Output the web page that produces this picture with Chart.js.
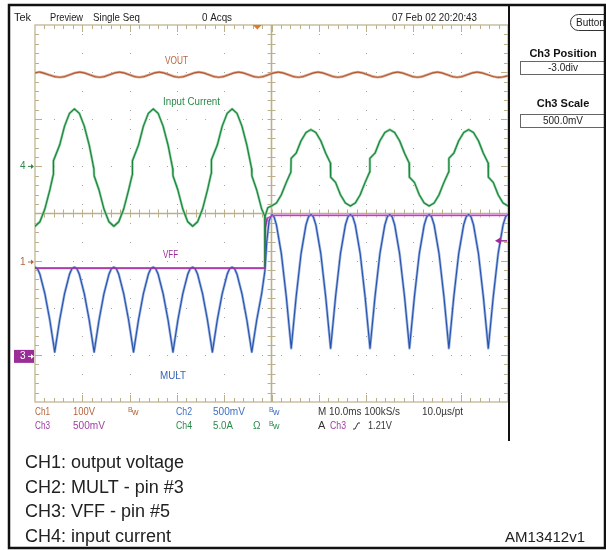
<!DOCTYPE html>
<html>
<head>
<meta charset="utf-8">
<title>AM13412v1</title>
<script src="https://cdn.jsdelivr.net/npm/chart.js@4.4.1/dist/chart.umd.min.js"></script>
<style>
    html, body { margin: 0; padding: 0; background: #fff; }
    #wrap { position: relative; width: 606px; height: 550px; }
</style>
</head>
<body>
<div id="wrap"><canvas id="scope"></canvas></div>
<script>
// x = time in ms (10 ms/div, 0 = left edge of screen), y = screen divisions (0 = centre line)

// CH1 output voltage ripple (peaks / troughs)
var voutTrace = [
    [0, 2.98], [1.05, 3.0], [5.25, 2.89], [9.45, 3.0], [13.65, 2.89], [17.85, 3.0], [22.05, 2.89],
    [26.25, 3.0], [30.45, 2.89], [34.65, 3.0], [38.85, 2.89], [43.05, 3.0], [47.25, 2.89],
    [51.45, 3.0], [55.65, 2.89], [59.85, 3.0], [64.05, 2.89], [68.25, 3.0], [72.45, 2.89],
    [76.65, 3.0], [80.85, 2.89], [85.05, 3.0], [89.25, 2.89], [93.45, 3.0], [97.65, 2.89], [100, 2.92]
];

// CH4 input current
var iinTrace = [
    [0, -0.27], [1.04, -0.175], [2.08, 0.095], [3.13, 0.498], [3.85, 0.82], [3.9, 1.12], [5.21, 1.452],
    [6.25, 1.855], [7.29, 2.125], [8.33, 2.22], [9.38, 2.125], [10.42, 1.855], [11.46, 1.452],
    [12.45, 0.95], [12.5, 0.80], [13.54, 0.498], [14.58, 0.095], [15.63, -0.175], [16.67, -0.27],
    [17.71, -0.175], [18.75, 0.095], [19.79, 0.498], [20.55, 0.82], [20.6, 1.12], [21.88, 1.452],
    [22.92, 1.855], [23.96, 2.125], [25, 2.22], [26.04, 2.125], [27.08, 1.855], [28.13, 1.452],
    [29.12, 0.95], [29.17, 0.80], [30.21, 0.498], [31.25, 0.095], [32.29, -0.175], [33.33, -0.27],
    [34.38, -0.175], [35.42, 0.095], [36.46, 0.498], [37.25, 0.85], [37.3, 1.14], [38.54, 1.452],
    [39.58, 1.855], [40.63, 2.125], [41.67, 2.22], [42.71, 2.125], [43.75, 1.855], [44.79, 1.452],
    [45.8, 0.95], [45.85, 0.80], [46.88, 0.498], [47.92, 0.095],
    [48.55, -0.05], [48.6, -1.12], [48.68, -0.05], [49.2, 0.12],
    [50, 0.16], [51.04, 0.222], [52.08, 0.397], [53.13, 0.66], [54.1, 0.88], [54.15, 1.17],
    [55.21, 1.28], [56.25, 1.543], [57.29, 1.718], [58.33, 1.78], [59.38, 1.718], [60.42, 1.543],
    [61.46, 1.28], [62.45, 1.07], [62.5, 0.77], [63.54, 0.66], [64.58, 0.397], [65.63, 0.222],
    [66.67, 0.16], [67.71, 0.222], [68.75, 0.397], [69.79, 0.66], [70.75, 0.88], [70.8, 1.17],
    [71.88, 1.28], [72.92, 1.543], [73.96, 1.718], [75, 1.78], [76.04, 1.718], [77.08, 1.543],
    [78.13, 1.28], [79.1, 1.07], [79.15, 0.77], [80.21, 0.66], [81.25, 0.397], [82.29, 0.222],
    [83.33, 0.16], [84.38, 0.222], [85.42, 0.397], [86.46, 0.66], [87.45, 0.88], [87.5, 1.17],
    [88.54, 1.28], [89.58, 1.543], [90.63, 1.718], [91.67, 1.78], [92.71, 1.718], [93.75, 1.543],
    [94.79, 1.28], [95.8, 1.07], [95.85, 0.77], [96.88, 0.66], [97.92, 0.397], [98.96, 0.222], [100, 0.16]
];

// CH3 VFF (pin 5)
var vffTrace = [
    [0, -1.16], [48.6, -1.16], [48.7, -0.3], [49.1, -0.1], [50.3, -0.04], [100, -0.04]
];

// CH2 MULT (pin 3)
var multTrace = [
    [0, -1.14], [0.52, -1.17], [1.04, -1.29], [2.08, -1.70], [3.13, -2.26], [4.17, -2.94], [5.21, -2.26], [6.25, -1.70], [7.29, -1.29], [7.81, -1.17],
    [8.33, -1.14], [8.85, -1.17], [9.38, -1.29], [10.42, -1.70], [11.46, -2.26], [12.5, -2.94], [13.54, -2.26], [14.58, -1.70], [15.63, -1.29], [16.15, -1.17],
    [16.67, -1.14], [17.19, -1.17], [17.71, -1.29], [18.75, -1.70], [19.79, -2.26], [20.83, -2.94], [21.88, -2.26], [22.92, -1.70], [23.96, -1.29], [24.48, -1.17],
    [25, -1.14], [25.52, -1.17], [26.04, -1.29], [27.08, -1.70], [28.13, -2.26], [29.17, -2.94], [30.21, -2.26], [31.25, -1.70], [32.29, -1.29], [32.81, -1.17],
    [33.33, -1.14], [33.85, -1.17], [34.38, -1.29], [35.42, -1.70], [36.46, -2.26], [37.5, -2.94], [38.54, -2.26], [39.58, -1.70], [40.63, -1.29], [41.15, -1.17],
    [41.67, -1.14], [42.19, -1.17], [42.71, -1.29], [43.75, -1.70], [44.79, -2.26], [45.83, -2.94], [46.88, -2.26], [47.92, -1.70],
    [48.6, -1.22], [49.0, -0.6], [49.5, -0.15], [50.1, -0.02], [50.55, -0.07],
    [51.04, -0.24], [52.08, -0.85], [53.13, -1.77], [54.17, -2.86], [55.21, -1.77], [56.25, -0.85], [57.29, -0.24], [57.81, -0.07],
    [58.33, -0.02], [58.85, -0.07], [59.38, -0.24], [60.42, -0.85], [61.46, -1.77], [62.5, -2.86], [63.54, -1.77], [64.58, -0.85], [65.63, -0.24], [66.15, -0.07],
    [66.67, -0.02], [67.19, -0.07], [67.71, -0.24], [68.75, -0.85], [69.79, -1.77], [70.83, -2.86], [71.88, -1.77], [72.92, -0.85], [73.96, -0.24], [74.48, -0.07],
    [75, -0.02], [75.52, -0.07], [76.04, -0.24], [77.08, -0.85], [78.13, -1.77], [79.17, -2.86], [80.21, -1.77], [81.25, -0.85], [82.29, -0.24], [82.81, -0.07],
    [83.33, -0.02], [83.85, -0.07], [84.38, -0.24], [85.42, -0.85], [86.46, -1.77], [87.5, -2.86], [88.54, -1.77], [89.58, -0.85], [90.63, -0.24], [91.15, -0.07],
    [91.67, -0.02], [92.19, -0.07], [92.71, -0.24], [93.75, -0.85], [94.79, -1.77], [95.83, -2.86], [96.88, -1.77], [97.92, -0.85], [98.96, -0.24], [99.48, -0.07], [100, -0.02]
];

// channel ground markers, trigger
var chMarkers = [ ['4', 1.0], ['1', -1.03], ['3', -3.0] ];
var trigTime = 47;
var trigLevel = -0.58;

var captionLines = ['CH1: output voltage', 'CH2: MULT - pin #3', 'CH3: VFF - pin #5', 'CH4: input current'];

var FONT = '"Liberation Sans", Arial, sans-serif';
var TAN = '#bcb08a';

function text(ctx, s, x, y, size, color, maxW, opts) {
    opts = opts || {};
    ctx.font = (opts.bold ? 'bold ' : '') + size + 'px ' + FONT;
    ctx.fillStyle = color;
    ctx.textAlign = opts.align || 'left';
    ctx.textBaseline = 'middle';
    if (maxW) {
        ctx.fillText(s, x, y, maxW);
    } else {
        ctx.fillText(s, x, y);
    }
}

// graticule: dotted divisions, centre cross and border ticks
var graticule = {
    id: 'graticule',
    beforeDatasetsDraw: function(chart) {
        var ctx = chart.ctx, xs = chart.scales.x, ys = chart.scales.y, a = chart.chartArea;
        var t, v, px, py;
        ctx.save();

        ctx.fillStyle = '#a4a4a4';
        for (t = 10; t < 100; t += 10) {
            if (t === 50) continue;
            px = Math.round(xs.getPixelForValue(t));
            for (v = -3.8; v < 4; v += 0.4) {
                ctx.fillRect(px, Math.round(ys.getPixelForValue(v)), 1, 1);
            }
        }
        for (v = -3; v <= 3; v++) {
            if (v === 0) continue;
            py = Math.round(ys.getPixelForValue(v));
            for (t = 4; t < 100; t += 4) {
                ctx.fillRect(Math.round(xs.getPixelForValue(t)), py, 1, 1);
            }
        }

        ctx.strokeStyle = TAN;
        ctx.lineWidth = 1.2;
        ctx.strokeRect(a.left, a.top, a.right - a.left, a.bottom - a.top);

        var cx = xs.getPixelForValue(50), cy = ys.getPixelForValue(0);
        ctx.lineWidth = 1.6;
        ctx.beginPath();
        ctx.moveTo(cx, a.top); ctx.lineTo(cx, a.bottom);
        ctx.moveTo(a.left, cy); ctx.lineTo(a.right, cy);
        ctx.stroke();

        ctx.lineWidth = 1;
        ctx.beginPath();
        for (t = 2; t < 100; t += 2) {
            px = Math.round(xs.getPixelForValue(t)) + 0.5;
            var len = (t % 10 === 0) ? 7 : 4;
            ctx.moveTo(px, a.top); ctx.lineTo(px, a.top + len);
            ctx.moveTo(px, a.bottom); ctx.lineTo(px, a.bottom - len);
            ctx.moveTo(px, cy - 4); ctx.lineTo(px, cy + 4);
        }
        for (v = -3.8; v < 4; v += 0.2) {
            py = Math.round(ys.getPixelForValue(v)) + 0.5;
            var major = Math.abs(v - Math.round(v)) < 0.01;
            var l2 = major ? 7 : 4;
            ctx.moveTo(a.left, py); ctx.lineTo(a.left + l2, py);
            ctx.moveTo(a.right, py); ctx.lineTo(a.right - l2, py);
            ctx.moveTo(cx - 4, py); ctx.lineTo(cx + 4, py);
        }
        ctx.stroke();
        ctx.restore();
    }
};

// frame, readouts, labels and side menu
var screenText = {
    id: 'screenText',
    afterDatasetsDraw: function(chart) {
        var ctx = chart.ctx, xs = chart.scales.x, ys = chart.scales.y, a = chart.chartArea;
        ctx.save();

        // channel ground markers on the left edge
        chMarkers.forEach(function(m) {
            var y = ys.getPixelForValue(m[1]);
            var col = m[0] === '4' ? '#2a8a4a' : (m[0] === '1' ? '#b4653f' : '#fff');
            if (m[0] === '3') {
                ctx.fillStyle = '#9a2d98';
                ctx.fillRect(14, y - 5, 20, 13);
                y += 1.5;
            }
            text(ctx, m[0], 20, y, 10, col);
            ctx.strokeStyle = col;
            ctx.fillStyle = col;
            ctx.lineWidth = 1;
            ctx.beginPath();
            ctx.moveTo(28, y); ctx.lineTo(33, y);
            ctx.stroke();
            ctx.beginPath();
            ctx.moveTo(34, y); ctx.lineTo(31, y - 2.5); ctx.lineTo(31, y + 2.5);
            ctx.fill();
        });

        // trigger position (top) and trigger level (right)
        var tx = xs.getPixelForValue(trigTime);
        ctx.fillStyle = '#e2762c';
        ctx.beginPath();
        ctx.moveTo(tx - 4.5, a.top); ctx.lineTo(tx + 4.5, a.top); ctx.lineTo(tx, a.top + 4.5);
        ctx.fill();
        var ly = ys.getPixelForValue(trigLevel);
        ctx.fillStyle = '#9a2d98';
        ctx.strokeStyle = '#9a2d98';
        ctx.lineWidth = 1.5;
        ctx.beginPath();
        ctx.moveTo(500, ly); ctx.lineTo(507, ly);
        ctx.stroke();
        ctx.beginPath();
        ctx.moveTo(495, ly); ctx.lineTo(501, ly - 3.5); ctx.lineTo(501, ly + 3.5);
        ctx.fill();

        // waveform labels
        text(ctx, 'VOUT', 165, 61, 10, '#b4653f', 23);
        text(ctx, 'Input Current', 163, 102, 10, '#2a8a4a', 57);
        text(ctx, 'VFF', 163, 255, 10, '#9a2d98', 15);
        text(ctx, 'MULT', 160, 376, 10, '#3a64b8', 26);

        // header
        text(ctx, 'Tek', 14, 18, 11, '#222', 18);
        text(ctx, 'Preview', 50, 18, 11, '#222', 33);
        text(ctx, 'Single Seq', 93, 18, 11, '#222', 47);
        text(ctx, '0 Acqs', 202, 18, 11, '#222', 30);
        text(ctx, '07 Feb 02 20:20:43', 392, 18, 11, '#222', 85);

        // readouts under the screen
        var r1 = 412, r2 = 426;
        text(ctx, 'Ch1', 35, r1, 11, '#b4653f', 15);
        text(ctx, '100V', 73, r1, 11, '#b4653f', 22);
        text(ctx, 'Ch3', 35, r2, 11, '#a040a8', 15);
        text(ctx, '500mV', 73, r2, 11, '#a040a8', 32);
        text(ctx, 'Ch2', 176, r1, 11, '#3f6fc0', 16);
        text(ctx, '500mV', 213, r1, 11, '#3f6fc0', 32);
        text(ctx, 'Ch4', 176, r2, 11, '#2a8a4a', 16);
        text(ctx, '5.0A', 213, r2, 11, '#2a8a4a', 20);
        text(ctx, '\u03a9', 253, r2, 10, '#2a8a4a');
        [[128, r1, '#b4653f'], [269, r1, '#3f6fc0'], [269, r2, '#2a8a4a']].forEach(function(b) {
            text(ctx, 'B', b[0], b[1] - 2, 7, b[2]);
            text(ctx, 'w', b[0] + 4, b[1] + 1, 9, b[2]);
        });
        text(ctx, 'M 10.0ms 100kS/s', 318, r1, 11, '#333', 82);
        text(ctx, '10.0\u00b5s/pt', 422, r1, 11, '#333', 41);
        text(ctx, 'A', 318, r2, 11, '#333');
        text(ctx, 'Ch3', 330, r2, 11, '#a040a8', 16);
        ctx.strokeStyle = '#333';
        ctx.lineWidth = 1;
        ctx.beginPath();
        ctx.moveTo(353, r2 + 3); ctx.lineTo(355, r2 + 3); ctx.lineTo(358, r2 - 3); ctx.lineTo(360, r2 - 3);
        ctx.stroke();
        text(ctx, '1.21V', 368, r2, 11, '#333', 24);

        // side menu
        ctx.strokeStyle = '#333';
        ctx.lineWidth = 1;
        ctx.beginPath();
        ctx.roundRect(570.5, 14.5, 50, 16, 8);
        ctx.stroke();
        text(ctx, 'Buttons', 576, 23, 10, '#222');
        text(ctx, 'Ch3 Position', 563, 54, 11, '#111', 75, {bold: true, align: 'center'});
        ctx.strokeStyle = '#666';
        ctx.strokeRect(520.5, 61.5, 90, 13);
        text(ctx, '-3.0div', 563, 68, 10, '#222', 38, {align: 'center'});
        text(ctx, 'Ch3 Scale', 563, 104, 11, '#111', 62, {bold: true, align: 'center'});
        ctx.strokeRect(520.5, 114.5, 90, 13);
        text(ctx, '500.0mV', 563, 121, 10, '#222', 40, {align: 'center'});

        // frame
        ctx.strokeStyle = '#111';
        ctx.lineWidth = 2;
        ctx.beginPath();
        ctx.moveTo(509, 5); ctx.lineTo(509, 441);
        ctx.stroke();
        ctx.lineWidth = 2.5;
        ctx.strokeRect(9, 5, 596, 543);

        // caption
        captionLines.forEach(function(s, i) {
            text(ctx, s, 25, 463 + i * 24.7, 18, '#222', 168);
        });
        text(ctx, 'AM13412v1', 505, 538, 15, '#222', 95);

        ctx.restore();
    }
};

function trace(label, pts, color, width, order, tension, rightColor) {
    var ds = {
        label: label,
        data: pts,
        borderColor: color,
        borderWidth: width,
        pointRadius: 0,
        tension: tension || 0,
        borderJoinStyle: 'round',
        borderCapStyle: 'round',
        order: order
    };
    if (rightColor) {
        // the VFF trace after the line step is drawn lighter on the scope
        ds.segment = {
            borderColor: function(c) { return c.p0.parsed.x >= 49 ? rightColor : undefined; }
        };
    }
    return ds;
}

var datasets = [
    trace('VOUT', voutTrace, '#b25a32', 1.1, 1, 0.4),
    trace('Input Current', iinTrace, '#17843b', 1.1, 2, 0),
    trace('VFF', vffTrace, '#a02ea0', 1.3, 3, 0, '#b447b4'),
    trace('MULT', multTrace, '#2652aa', 1.1, 4),
    trace('VOUT halo', voutTrace, '#dcae96', 2.6, 11, 0.4),
    trace('Input Current halo', iinTrace, '#8ccc9e', 2.5, 12, 0),
    trace('VFF halo', vffTrace, '#d47ad2', 2.2, 13, 0, '#eeaaea'),
    trace('MULT halo', multTrace, '#9bb3e2', 2.6, 14)
];

var chart = new Chart(document.getElementById('scope').getContext('2d'), {
    type: 'line',
    data: { datasets: datasets },
    options: {
        responsive: true,
        maintainAspectRatio: false,
        animation: false,
        events: [],
        layout: { padding: { left: 35, top: 25, right: 98, bottom: 148 } },
        plugins: { legend: { display: false }, tooltip: { enabled: false } },
        scales: {
            x: { type: 'linear', min: 0, max: 100, display: false },
            y: { type: 'linear', min: -4, max: 4, display: false }
        }
    },
    plugins: [graticule, screenText]
});
</script>
</body>
</html>
